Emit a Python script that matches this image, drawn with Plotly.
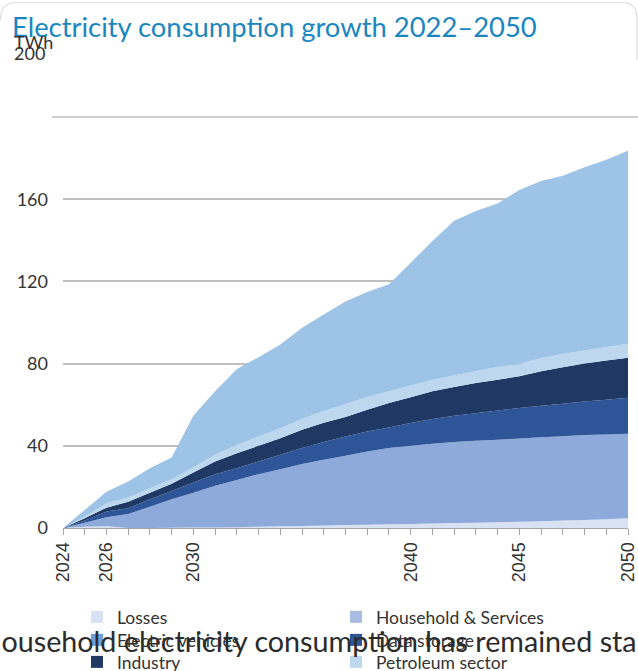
import plotly.graph_objects as go

years = list(range(2024, 2051))

losses = [0, 0.6, 0.8, 0, 0, 0.1, 0.2, 0.3, 0.4, 0.6, 0.8, 1.0, 1.2, 1.4, 1.6, 1.8, 2.0,
          2.2, 2.4, 2.6, 2.8, 3.0, 3.3, 3.6, 3.9, 4.2, 4.7]
household_services = [0, 2.0, 4.4, 6.8, 10.4, 13.9, 17.0, 20.2, 23.0, 25.6, 27.8, 30.1, 32.0,
                      33.7, 35.6, 37.1, 38.0, 38.8, 39.4, 39.8, 40.1, 40.6, 40.9, 41.1, 41.3,
                      41.3, 41.2]
data_storage = [0, 1.0, 2.8, 2.8, 3.6, 4.0, 4.9, 5.7, 5.7, 6.2, 7.0, 7.8, 8.6, 9.4, 9.8,
                10.0, 11.1, 12.0, 12.8, 13.5, 14.3, 14.8, 15.3, 15.8, 16.3, 16.9, 17.5]
industry = [0, 1.1, 1.9, 3.2, 3.2, 3.5, 4.9, 6.2, 7.3, 7.6, 8.1, 8.9, 9.4, 9.5, 10.6, 11.9,
            12.5, 13.5, 14.0, 14.7, 15.0, 15.4, 16.8, 17.7, 18.5, 19.1, 19.4]
petroleum_sector = [0, 0.8, 2.1, 2.0, 2.1, 2.2, 2.6, 3.2, 4.1, 4.5, 4.9, 5.2, 5.7, 6.3, 6.1,
                    5.8, 5.7, 5.7, 5.6, 5.7, 6.1, 6.0, 6.4, 6.5, 6.4, 6.6, 6.8]
electric_vehicles = [0, 3.3, 5.7, 7.8, 9.8, 10.6, 25.0, 30.9, 36.9, 38.6, 40.7, 44.4, 47.0,
                     49.9, 51.1, 52.0, 59.8, 67.5, 75.3, 78.0, 79.6, 84.7, 86.1, 86.7, 89.1,
                     91.1, 94.0]

# stacking order (bottom -> top): name, values, colour, legend row, legend swatch colour
series = [
    ("Losses", losses, "#d9e2f3", "legend", "#d9e2f3"),
    ("Household & Services", household_services, "#8eaadb", "legend", "#a9bde4"),
    ("Data storage", data_storage, "#2e5597", "legend2", "#2e5597"),
    ("Industry", industry, "#1f3864", "legend3", "#1f3864"),
    ("Petroleum sector", petroleum_sector, "#bdd7ee", "legend3", "#bdd7ee"),
    ("Electric vehicles", electric_vehicles, "#9dc3e6", "legend2", "#6f9fd8"),
]
legend_rank = {"Losses": 1, "Household & Services": 2, "Electric vehicles": 3,
               "Data storage": 4, "Industry": 5, "Petroleum sector": 6}

tick_years = years
tick_labels = [str(y) if y in (2024, 2026, 2030, 2040, 2045, 2050) else "" for y in years]
y_ticks = [0, 40, 80, 120, 160, 200]
y_labels = ["0", "40", "80", "120", "160", ""]

fig = go.Figure()
for name, vals, col, lg, sw in series:
    fig.add_trace(go.Scatter(x=years, y=vals, name=name, stackgroup="one", mode="none",
                             fillcolor=col, line=dict(width=0), showlegend=False,
                             hoverinfo="x+y+name"))
for name, vals, col, lg, sw in series:
    fig.add_trace(go.Scatter(x=[None], y=[None], name=name, mode="markers",
                             marker=dict(symbol="square", size=12, color=sw),
                             legend=lg, legendrank=legend_rank[name], showlegend=True))

W, H = 638, 671
L, R, T, B = 63, 10, 117, 143
PW, PH = W - L - R, H - T - B


def px(x):
    return (x - L) / PW


def py(y):
    return (H - B - y) / PH


font_main = "Lato, 'Source Sans Pro', 'Noto Sans', sans-serif"


def row_legend(ycenter):
    return dict(orientation="h", x=px(77), y=py(ycenter), xanchor="left", yanchor="middle",
                entrywidth=214, entrywidthmode="pixels",
                font=dict(family=font_main, size=17.5, color="#333333"),
                traceorder="normal", bgcolor="rgba(0,0,0,0)", itemwidth=30)


fig.update_layout(
    width=W, height=H,
    margin=dict(l=L, r=R, t=T, b=B, autoexpand=False),
    paper_bgcolor="white", plot_bgcolor="white",
    font=dict(family=font_main, color="#333333"),
    showlegend=True,
    legend=row_legend(617),
    legend2=row_legend(640),
    legend3=row_legend(662),
    xaxis=dict(range=[2024, 2050], tickmode="array", tickvals=tick_years, ticktext=tick_labels,
               tickangle=-90, ticks="outside", ticklen=6, tickcolor="#a6a6a6",
               showline=True, linecolor="#a6a6a6", linewidth=1, showgrid=False, zeroline=False,
               tickfont=dict(family="'Liberation Sans', Arial, sans-serif", size=18, color="#333333"),
               fixedrange=True, automargin=False),
    yaxis=dict(range=[0, 200], tickmode="array", tickvals=y_ticks, ticktext=y_labels,
               showgrid=True, gridcolor="#bfbfbf", gridwidth=1.5, zeroline=False,
               showline=False, ticks="", ticklabelstandoff=14, automargin=False,
               tickfont=dict(family=font_main, size=18, color="#333333"), fixedrange=True),
    title=dict(text="Electricity consumption growth 2022–2050", xref="container", yref="container",
               x=12 / W, xanchor="left", y=1 - 27 / H, yanchor="middle",
               font=dict(family=font_main, size=27.4, color="#1a86c1")),
)

# top grid line (200) extending to the edge
fig.add_shape(type="line", xref="paper", yref="paper", x0=px(52), x1=px(638), y0=1, y1=1,
              line=dict(color="#bfbfbf", width=1.5), layer="below")

# card border
path = (f"M{px(0.5)},{py(20)} Q{px(0.5)},{py(2.5)} {px(16)},{py(2.5)} "
        f"L{px(622)},{py(2.5)} Q{px(637)},{py(2.5)} {px(637)},{py(18)} L{px(637)},{py(60)}")
fig.add_shape(type="path", xref="paper", yref="paper", path=path,
              line=dict(color="#dedede", width=1.2))

fig.add_annotation(text="TWh", xref="paper", yref="paper", x=px(12), y=py(42),
                   xanchor="left", yanchor="middle", showarrow=False,
                   font=dict(family=font_main, size=18, color="#333333"))
fig.add_annotation(text="200", xref="paper", yref="paper", x=px(12), y=py(53),
                   xanchor="left", yanchor="middle", showarrow=False,
                   font=dict(family=font_main, size=18, color="#333333"))

# overlapping page text
fig.add_annotation(text="Household electricity consumption has remained stable", xref="paper",
                   yref="paper", x=px(-22), y=py(641), xanchor="left", yanchor="middle",
                   showarrow=False, font=dict(family=font_main, size=28.7, color="#2b2b2b"))

fig.write_html("out.html")
